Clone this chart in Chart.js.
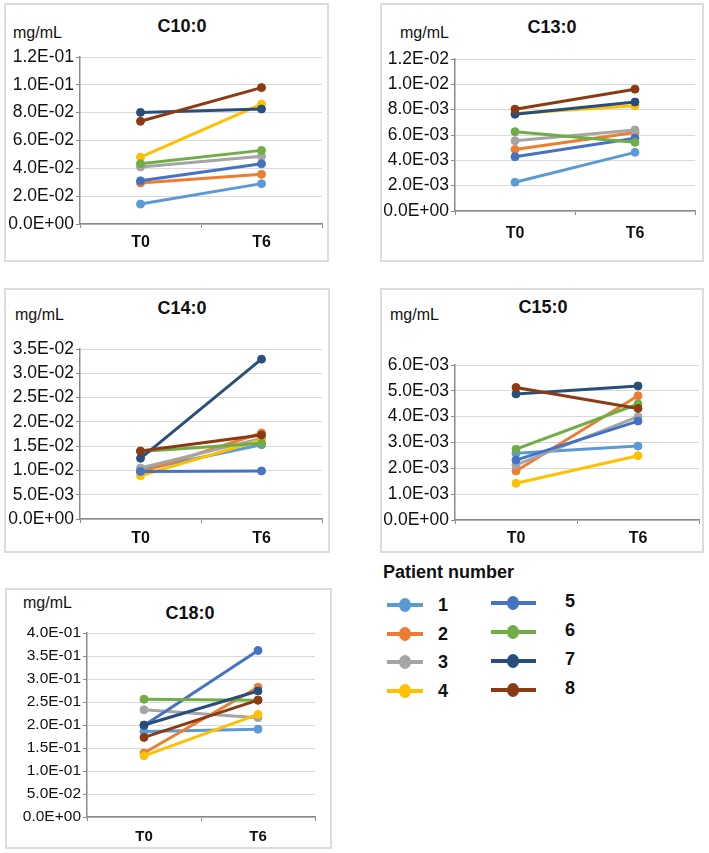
<!DOCTYPE html>
<html>
<head>
<meta charset="utf-8">
<script src="https://cdn.jsdelivr.net/npm/chart.js@4.4.0/dist/chart.umd.min.js"></script>
<style>
  body { margin: 0; width: 709px; height: 853px; background: #fff; position: relative; overflow: hidden;
         font-family: "Liberation Sans", Arial, sans-serif; color: #111; }
  .panel { position: absolute; border: 2px solid #dcdcdc; box-sizing: border-box; }
  .plot { position: absolute; }
  .title { position: absolute; font-weight: bold; font-size: 18px; transform: translate(-50%, -50%); white-space: nowrap; }
  .unit { position: absolute; font-size: 16px; transform: translateY(-50%); white-space: nowrap; }
  .legend-head { position: absolute; left: 383px; top: 562px; font-size: 18px; font-weight: bold; }
  .lg-item { position: absolute; height: 20px; }
  .lg-line { position: absolute; left: 0; top: 8px; width: 36px; height: 4px; }
  .lg-dot { position: absolute; left: 12px; top: 3px; width: 12px; height: 14px; border-radius: 50%; }
  .lg-num { position: absolute; font-size: 18px; font-weight: bold; top: 0; line-height: 20px; }
</style>
</head>
<body>
<script>
// Fatty acid levels per patient, T0 vs T6 (mg/mL)
const timepoints = ['T0', 'T6'];
const patients = ['1', '2', '3', '4', '5', '6', '7', '8'];
const patientColors = ['#5B9BD5', '#ED7D31', '#A5A5A5', '#FFC000', '#4472C4', '#70AD47', '#2A4E7C', '#8B3A12'];

const c10T0 = [0.0143, 0.0295, 0.0410, 0.0480, 0.0310, 0.0433, 0.0802, 0.0738];
const c10T6 = [0.0290, 0.0357, 0.0486, 0.0862, 0.0433, 0.0529, 0.0826, 0.0980];

const c13T0 = [0.00227, 0.00486, 0.00555, 0.00770, 0.00428, 0.00626, 0.00764, 0.00804];
const c13T6 = [0.00463, 0.00620, 0.00640, 0.00830, 0.00574, 0.00542, 0.00860, 0.00962];

const c14T0 = [0.0101, 0.0096, 0.0105, 0.0089, 0.0098, 0.0139, 0.0125, 0.0140];
const c14T6 = [0.0153, 0.0177, 0.0166, 0.0163, 0.0099, 0.0156, 0.0329, 0.0173];

const c15T0 = [0.00258, 0.00190, 0.00213, 0.00142, 0.00232, 0.00274, 0.00488, 0.00513];
const c15T6 = [0.00286, 0.00481, 0.00400, 0.00249, 0.00383, 0.00449, 0.00519, 0.00432];

const c18T0 = [0.186, 0.139, 0.233, 0.133, 0.199, 0.256, 0.200, 0.173];
const c18T6 = [0.191, 0.282, 0.216, 0.223, 0.362, 0.254, 0.274, 0.254];

// box = panel frame, area = plot area (page pixels)
const panels = [
  { title: 'C10:0', t0: c10T0, t6: c10T6, max: 0.12, step: 0.02,
    box: [4, 3, 325, 259], area: [80, 57, 322, 224], titlePos: [182, 26], unitPos: [13, 33], tickSize: 17.5, catSize: 16, catPad: 5 },
  { title: 'C13:0', t0: c13T0, t6: c13T6, max: 0.012, step: 0.002,
    box: [380, 3, 324, 259], area: [455, 59, 695, 211], titlePos: [552, 27], unitPos: [400, 33], tickSize: 17.5, catSize: 16, catPad: 9 },
  { title: 'C14:0', t0: c14T0, t6: c14T6, max: 0.035, step: 0.005,
    box: [4, 288, 326, 265], area: [80, 349, 322, 519], titlePos: [182, 308], unitPos: [15, 315], tickSize: 17.5, catSize: 16, catPad: 6 },
  { title: 'C15:0', t0: c15T0, t6: c15T6, max: 0.006, step: 0.001,
    box: [380, 288, 324, 265], area: [455, 365, 702, 520], titlePos: [543, 307], unitPos: [390, 315], tickSize: 17.5, catSize: 16, catPad: 5 },
  { title: 'C18:0', t0: c18T0, t6: c18T6, max: 0.4, step: 0.05,
    box: [5, 588, 327, 261], area: [87, 633, 315, 817], titlePos: [190, 613], unitPos: [23, 603], tickSize: 15.5, catSize: 15, catPad: 7 }
];

function sci(v) {
  const parts = v.toExponential(1).split('e');
  const exp = Math.abs(parseInt(parts[1], 10));
  return parts[0] + 'E' + (parts[1][0] === '-' ? '-' : '+') + String(exp).padStart(2, '0');
}

function addEl(cls, text, css) {
  const el = document.createElement('div');
  el.className = cls;
  if (text) el.textContent = text;
  Object.assign(el.style, css);
  document.body.appendChild(el);
  return el;
}

function drawPanel(p) {
  const [bx, by, bw, bh] = p.box;
  const [al, at, ar, ab] = p.area;

  addEl('panel', '', { left: bx + 'px', top: by + 'px', width: bw + 'px', height: bh + 'px' });
  addEl('title', p.title, { left: p.titlePos[0] + 'px', top: p.titlePos[1] + 'px' });
  addEl('unit', 'mg/mL', { left: p.unitPos[0] + 'px', top: p.unitPos[1] + 'px' });

  const canvas = document.createElement('canvas');
  canvas.className = 'plot';
  canvas.width = bw;
  canvas.height = bh;
  canvas.style.left = bx + 'px';
  canvas.style.top = by + 'px';
  document.body.appendChild(canvas);

  const datasets = patients.map((name, i) => ({
    label: name,
    data: [p.t0[i], p.t6[i]],
    borderColor: patientColors[i],
    backgroundColor: patientColors[i],
    pointBackgroundColor: patientColors[i],
    pointBorderColor: patientColors[i],
    borderWidth: 3,
    pointRadius: 4,
    pointBorderWidth: 1,
    order: patients.length - i
  }));

  new Chart(canvas, {
    type: 'line',
    data: { labels: timepoints, datasets: datasets },
    options: {
      responsive: false,
      animation: false,
      devicePixelRatio: 1,
      layout: { padding: { left: 0, top: at - by, right: bx + bw - ar, bottom: 0 } },
      plugins: { legend: { display: false }, tooltip: { enabled: false }, title: { display: false } },
      scales: {
        x: {
          offset: true,
          afterFit: (scale) => { scale.height = by + bh - ab; },
          grid: { offset: true, drawOnChartArea: false, drawTicks: true, tickLength: 4, tickColor: '#8a8a8a' },
          border: { display: true, color: '#8a8a8a', width: 1.5 },
          ticks: { color: '#111', padding: p.catPad, font: { family: 'Liberation Sans', size: p.catSize, weight: 'bold' } }
        },
        y: {
          min: 0,
          max: p.max,
          afterFit: (scale) => { scale.width = al - bx; },
          grid: { color: '#d9d9d9', lineWidth: 1, drawTicks: true, tickLength: 4, tickColor: '#8a8a8a' },
          border: { display: true, color: '#8a8a8a', width: 1.5 },
          ticks: {
            stepSize: p.step,
            padding: 2,
            color: '#111',
            font: { family: 'Liberation Sans', size: p.tickSize },
            callback: (v) => sci(v)
          }
        }
      }
    }
  });
}

panels.forEach(drawPanel);

// Legend (two columns: 1-4, 5-8)
addEl('legend-head', 'Patient number', {});
patients.forEach((name, i) => {
  const col = i < 4 ? 0 : 1;
  const row = i % 4;
  const x = col === 0 ? 387 : 491;
  const y = col === 0 ? 595 + row * 28.5 : 593 + row * 29;
  const item = addEl('lg-item', '', { left: x + 'px', top: y + 'px', width: '120px' });
  const line = document.createElement('div');
  line.className = 'lg-line';
  line.style.background = patientColors[i];
  if (col === 1) line.style.width = '45px';
  const dot = document.createElement('div');
  dot.className = 'lg-dot';
  dot.style.background = patientColors[i];
  if (col === 1) dot.style.left = '16px';
  const num = document.createElement('div');
  num.className = 'lg-num';
  num.textContent = name;
  num.style.left = (col === 0 ? 51 : 74) + 'px';
  if (col === 1) num.style.top = '-2px';
  item.appendChild(line);
  item.appendChild(dot);
  item.appendChild(num);
});
</script>
</body>
</html>
